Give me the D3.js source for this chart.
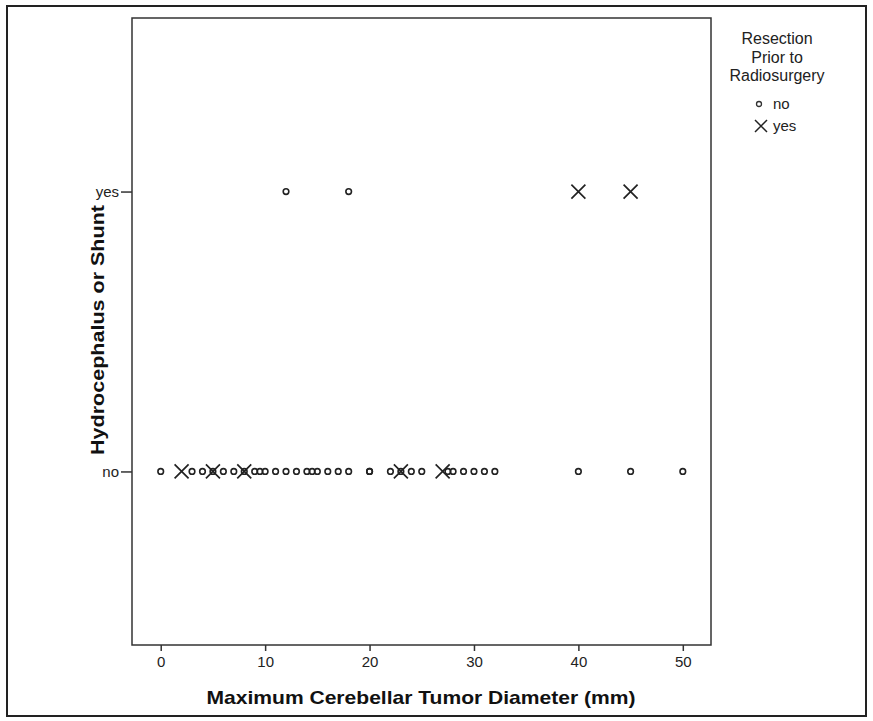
<!DOCTYPE html>
<html><head><meta charset="utf-8">
<script src="https://cdn.jsdelivr.net/npm/d3@7"></script>
<style>body{margin:0;background:#fff}svg{display:block}text{font-family:"Liberation Sans",Arial,sans-serif}</style>
</head><body>
<svg id="c" width="873" height="721"></svg>
<script>
// Data: Maximum Cerebellar Tumor Diameter (mm) by Hydrocephalus (yes/no) and prior resection
const hydroCategories = ["yes", "no"];
const xTicks = [0, 10, 20, 30, 40, 50];
const noResection_hydroNo = [0, 3, 4, 5, 6, 7, 8, 9, 9.5, 10, 11, 12, 13, 14, 14.5, 15, 16, 17, 18, 20, 20, 22, 23, 24, 25, 27.5, 28, 29, 30, 31, 32, 40, 45, 50];
const resection_hydroNo = [2, 5, 8, 23, 27];
const noResection_hydroYes = [12, 18];
const resection_hydroYes = [40, 45];
const legendTitle = ["Resection", "Prior to", "Radiosurgery"];
const legendLabels = ["no", "yes"];

const svg = d3.select("#c");
const L = 132, R = 711, T = 18, B = 645;

// outer frame
svg.append("rect").attr("x", 7).attr("y", 6).attr("width", 859).attr("height", 710)
  .attr("fill", "none").attr("stroke", "#222").attr("stroke-width", 2);

const x = d3.scaleLinear().domain([-2.75, 52.7]).range([L, R]);
const y = d3.scalePoint().domain(hydroCategories).range([T, B]).padding(0.62);

// plot frame
svg.append("rect").attr("x", L).attr("y", T).attr("width", R - L).attr("height", B - T)
  .attr("fill", "none").attr("stroke", "#333").attr("stroke-width", 1.5);

// x axis
const xa = svg.append("g").attr("transform", `translate(0,${B})`)
  .call(d3.axisBottom(x).tickValues(xTicks).tickSize(6).tickSizeOuter(0).tickPadding(5));
xa.select(".domain").remove();
xa.selectAll("line").attr("stroke", "#333").attr("stroke-width", 1.5);
xa.selectAll("text").attr("font-size", 15).attr("fill", "#222");

// y axis
const ya = svg.append("g").attr("transform", `translate(${L},0)`)
  .call(d3.axisLeft(y).tickSize(11).tickSizeOuter(0).tickPadding(2));
ya.select(".domain").remove();
ya.selectAll("line").attr("stroke", "#333").attr("stroke-width", 1.5);
ya.selectAll("text").attr("font-size", 15).attr("fill", "#222");

// circles
const circ = [
  ...noResection_hydroNo.map(v => ({v, c: "no"})),
  ...noResection_hydroYes.map(v => ({v, c: "yes"}))
];
svg.append("g").selectAll("circle").data(circ).join("circle")
  .attr("cx", d => x(d.v)).attr("cy", d => y(d.c)).attr("r", 2.8)
  .attr("fill", "none").attr("stroke", "#222").attr("stroke-width", 1.6);

// crosses
const cross = [
  ...resection_hydroNo.map(v => ({v, c: "no"})),
  ...resection_hydroYes.map(v => ({v, c: "yes"}))
];
const s = 7;
svg.append("g").selectAll("path").data(cross).join("path")
  .attr("d", d => { const cx = x(d.v), cy = y(d.c);
    return `M${cx-s},${cy-s}L${cx+s},${cy+s}M${cx-s},${cy+s}L${cx+s},${cy-s}`; })
  .attr("stroke", "#222").attr("stroke-width", 1.7).attr("fill", "none");

// axis titles
svg.append("text").attr("x", 421).attr("y", 704).attr("text-anchor", "middle")
  .attr("font-size", 19).attr("font-weight", "bold").attr("fill", "#111")
  .attr("textLength", 429).attr("lengthAdjust", "spacingAndGlyphs")
  .text("Maximum Cerebellar Tumor Diameter (mm)");
svg.append("text").attr("transform", "translate(104,330) rotate(-90)").attr("text-anchor", "middle")
  .attr("font-size", 19).attr("font-weight", "bold").attr("fill", "#111")
  .attr("textLength", 250).attr("lengthAdjust", "spacingAndGlyphs")
  .text("Hydrocephalus or Shunt");

// legend
const lg = svg.append("g");
lg.selectAll("text.t").data(legendTitle).join("text").attr("class", "t")
  .attr("x", 777).attr("y", (d, i) => 44 + i * 18.5).attr("text-anchor", "middle")
  .attr("font-size", 16).attr("fill", "#222").text(d => d);
lg.append("circle").attr("cx", 759).attr("cy", 104).attr("r", 2.5)
  .attr("fill", "none").attr("stroke", "#333").attr("stroke-width", 1.3);
const lx = 761, ly = 126, ls = 6;
lg.append("path").attr("d", `M${lx-ls},${ly-ls}L${lx+ls},${ly+ls}M${lx-ls},${ly+ls}L${lx+ls},${ly-ls}`)
  .attr("stroke", "#222").attr("stroke-width", 1.5);
lg.selectAll("text.l").data(legendLabels).join("text").attr("class", "l")
  .attr("x", 773).attr("y", (d, i) => 109 + i * 22).attr("font-size", 15).attr("fill", "#222").text(d => d);
</script>
</body></html>
